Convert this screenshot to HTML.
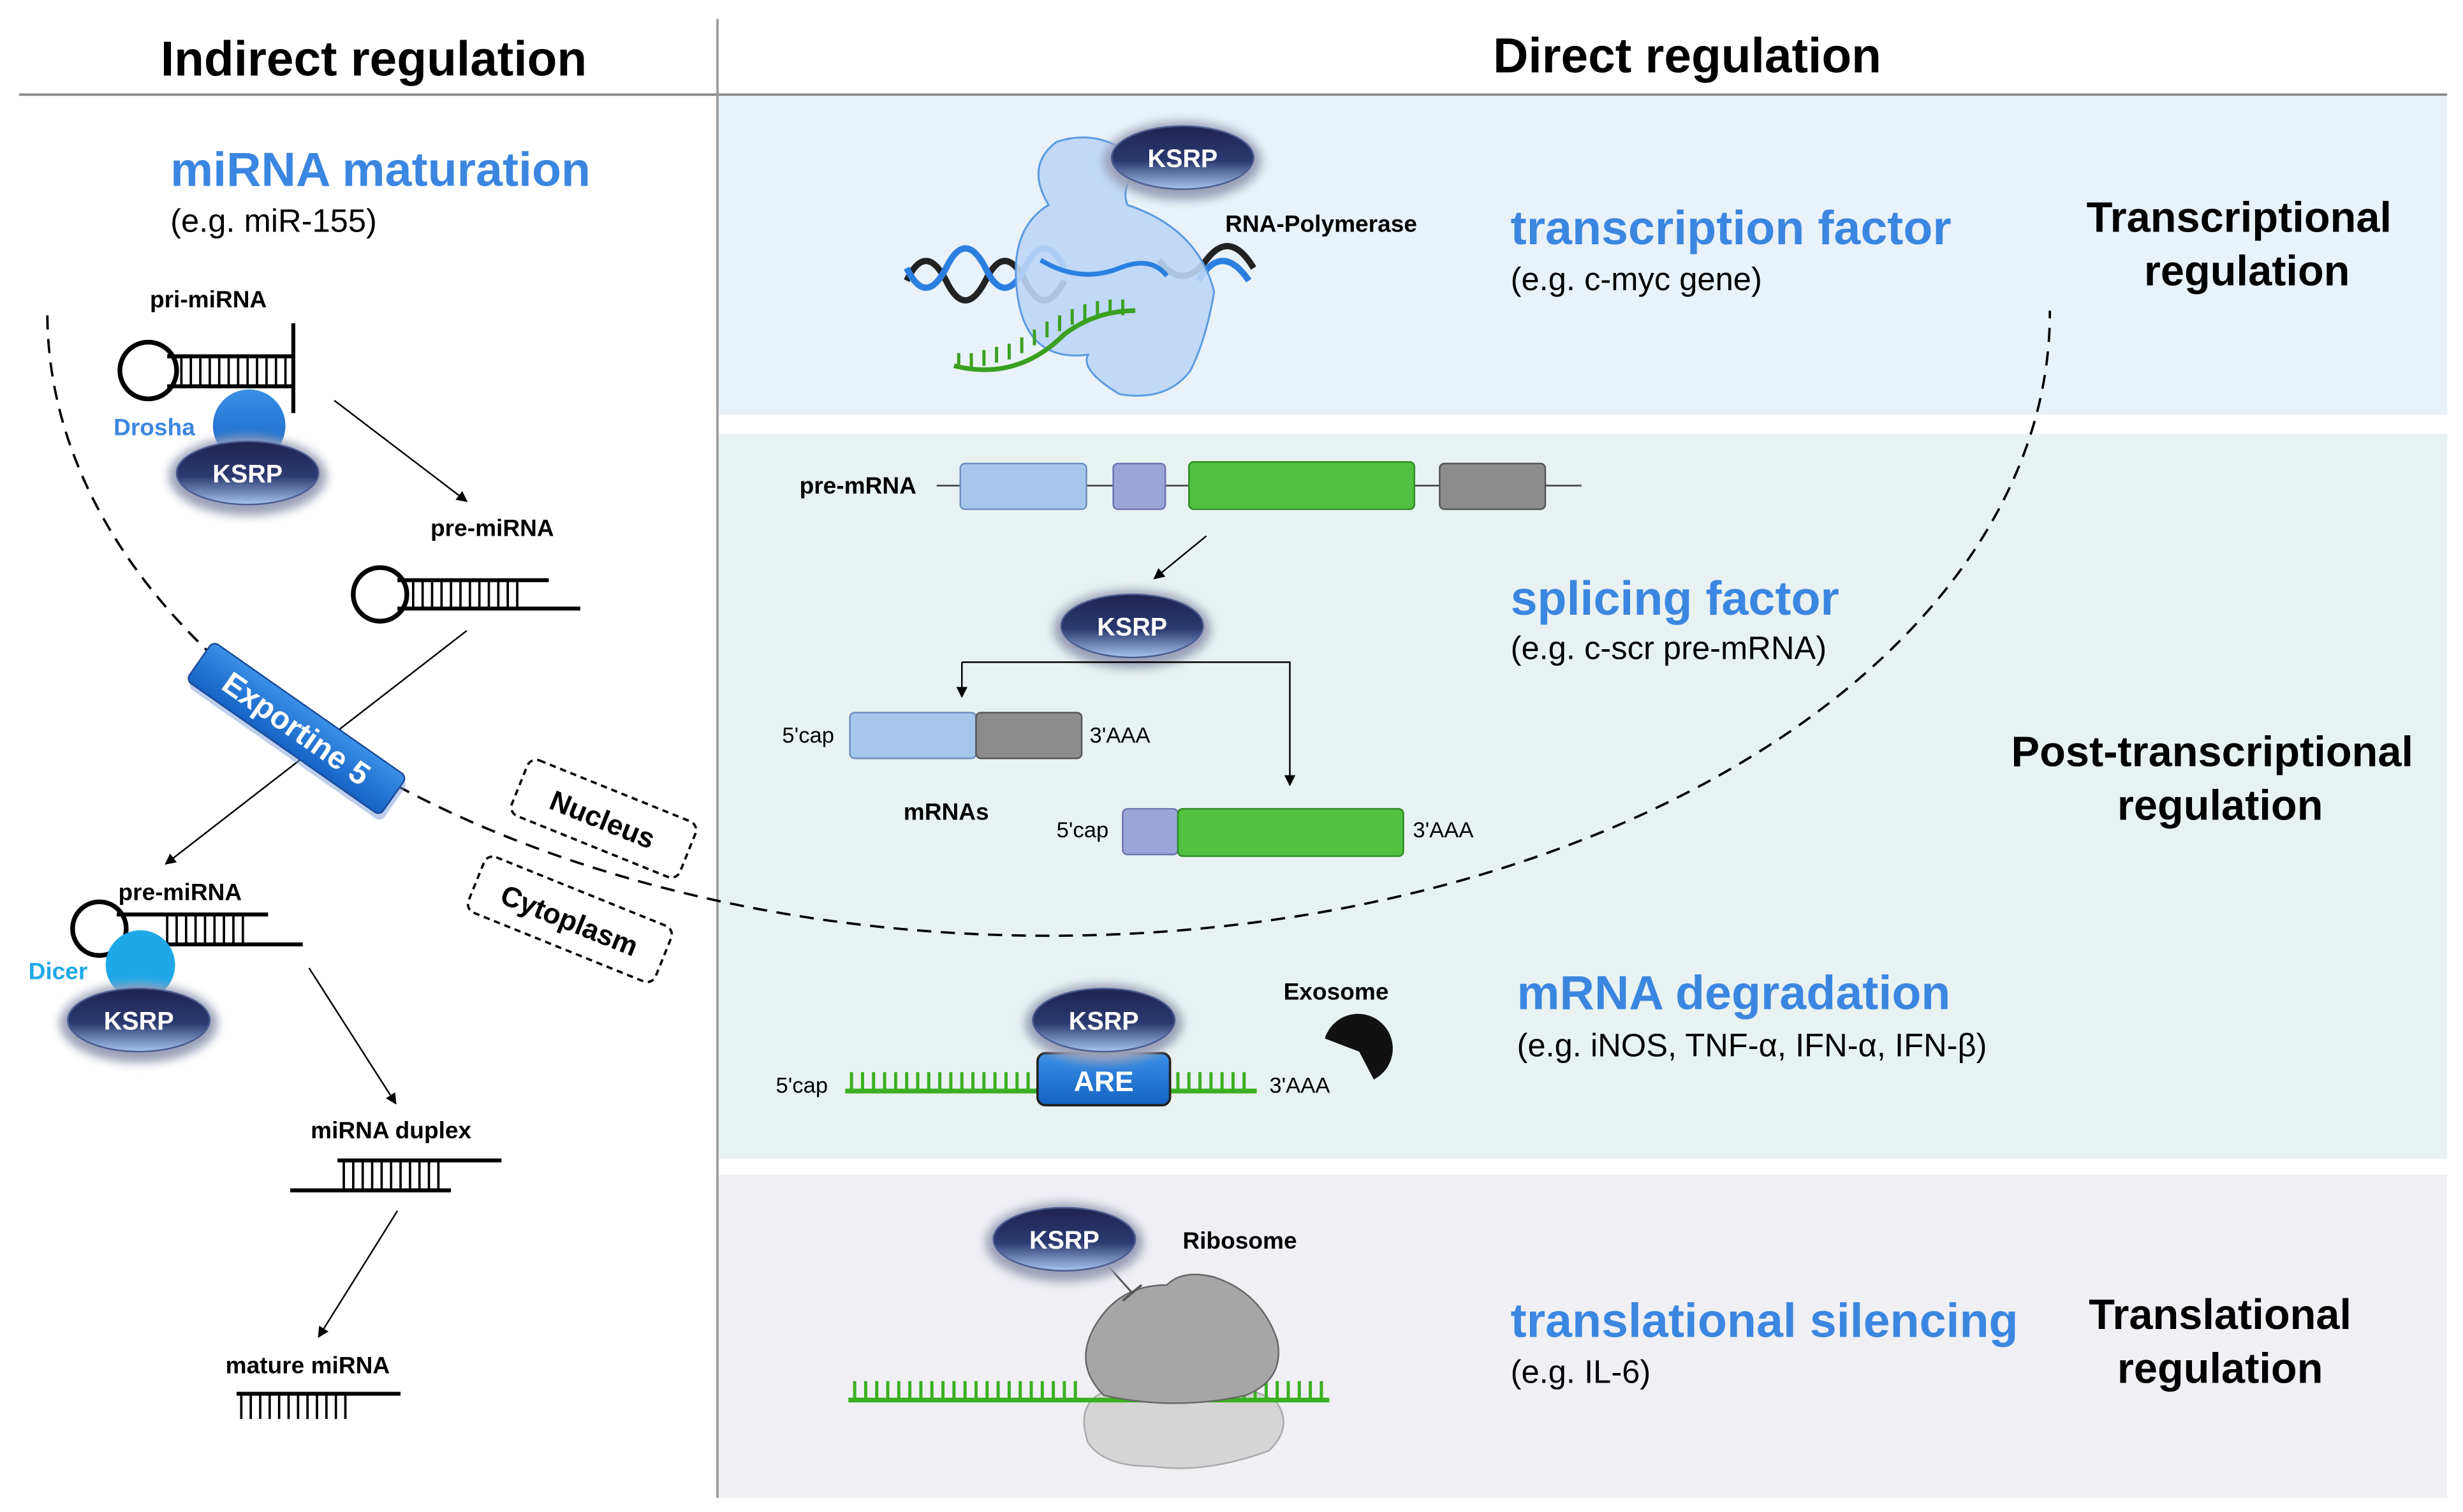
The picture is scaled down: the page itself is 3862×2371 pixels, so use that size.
<!DOCTYPE html>
<html><head><meta charset="utf-8"><style>html,body{margin:0;padding:0;background:#fff}svg{display:block}</style></head><body>
<svg width="3862" height="2371" viewBox="0 0 1562 959" xmlns="http://www.w3.org/2000/svg" font-family="Liberation Sans, Arial, sans-serif">
<defs>
<linearGradient id="kg" x1="0" y1="0" x2="0" y2="1"><stop offset="0" stop-color="#1f2450"/><stop offset="0.55" stop-color="#2a3a70"/><stop offset="1" stop-color="#a8c4ec"/></linearGradient>
<linearGradient id="bl" x1="0" y1="0" x2="0" y2="1"><stop offset="0" stop-color="#3a8fe6"/><stop offset="1" stop-color="#1563c4"/></linearGradient>
<filter id="sh" x="-30%" y="-30%" width="160%" height="160%"><feGaussianBlur stdDeviation="3"/></filter>
<marker id="ar" viewBox="0 0 10 10" refX="9" refY="5" markerWidth="7" markerHeight="7" orient="auto"><path d="M0,0L10,5L0,10z" fill="#000"/></marker>
<g id="ksrp"><ellipse cx="0" cy="2" rx="50" ry="25" fill="#9aa0b8" filter="url(#sh)"/><ellipse cx="0" cy="0" rx="45" ry="20" fill="url(#kg)" stroke="#4a5c90" stroke-width="1"/><text x="0" y="6" text-anchor="middle" font-size="16" font-weight="bold" fill="#fff">KSRP</text></g>
</defs>
<rect width="1562" height="959" fill="#fff"/>
<rect x="455" y="60" width="1097" height="203" fill="#e9f1f9"/>
<rect x="455" y="275" width="1097" height="460" fill="#e9f2f2"/>
<rect x="455" y="745" width="1097" height="205" fill="#efeff4"/>
<line x1="12" y1="60" x2="1552" y2="60" stroke="#888" stroke-width="1.5"/>
<line x1="455" y1="12" x2="455" y2="950" stroke="#999" stroke-width="1.5"/>
<text x="237" y="48" text-anchor="middle" font-size="31" font-weight="bold">Indirect regulation</text>
<text x="1070" y="46" text-anchor="middle" font-size="31" font-weight="bold">Direct regulation</text>
<path d="M30,200 A635,395 0 0 0 1300,197" fill="none" stroke="#000" stroke-width="1.5" stroke-dasharray="9,6"/>

<text x="108" y="118" font-size="30.5" font-weight="bold" fill="#3b86e0">miRNA maturation</text>
<text x="108" y="147" font-size="20.5">(e.g. miR-155)</text>
<text x="95" y="195" font-size="15" font-weight="bold">pri-miRNA</text>
<circle cx="94" cy="235" r="18" fill="#fff" stroke="#000" stroke-width="3"/>
<g stroke="#000" stroke-width="2.5"><line x1="106" y1="226" x2="186" y2="226"/><line x1="106" y1="245" x2="186" y2="245"/><line x1="186" y1="205" x2="186" y2="262"/></g>
<g stroke="#000" stroke-width="1.5"><path d="M115,226v19M121,226v19M127,226v19M133,226v19M139,226v19M145,226v19M151,226v19M157,226v19M163,226v19M169,226v19M175,226v19M181,226v19"/></g>
<circle cx="158" cy="270" r="23" fill="url(#bl)"/>
<text x="72" y="276" font-size="15" font-weight="bold" fill="#3b86e0">Drosha</text>
<use href="#ksrp" x="157" y="300"/>
<line x1="212" y1="254" x2="296" y2="318" stroke="#000" marker-end="url(#ar)"/>
<text x="273" y="340" font-size="15" font-weight="bold">pre-miRNA</text>
<circle cx="241" cy="377" r="17" fill="#fff" stroke="#000" stroke-width="3"/>
<g stroke="#000" stroke-width="2.5"><line x1="252" y1="368" x2="348" y2="368"/><line x1="252" y1="386" x2="368" y2="386"/></g>
<g stroke="#000" stroke-width="1.5"><path d="M262,368v18M268,368v18M274,368v18M280,368v18M286,368v18M292,368v18M298,368v18M304,368v18M310,368v18M316,368v18M322,368v18M328,368v18"/></g>
<line x1="296" y1="400" x2="105" y2="548" stroke="#000" marker-end="url(#ar)"/>
<g transform="rotate(35 188 462)"><rect x="113" y="447" width="150" height="30" rx="4" fill="#7a9ed8" transform="translate(3,3)" opacity="0.5"/><rect x="113" y="447" width="150" height="30" rx="4" fill="url(#bl)" stroke="#1a4a9a"/><text x="188" y="469" text-anchor="middle" font-size="20" font-weight="bold" fill="#fff">Exportine 5</text></g>
<g transform="rotate(22 382 520)"><rect x="325" y="500" width="115" height="38" rx="6" fill="#fff" stroke="#000" stroke-width="1.5" stroke-dasharray="4,3"/><text x="382" y="526" text-anchor="middle" font-size="18" font-weight="bold">Nucleus</text></g>
<g transform="rotate(22 361 584)"><rect x="297" y="564" width="128" height="38" rx="6" fill="#fff" stroke="#000" stroke-width="1.5" stroke-dasharray="4,3"/><text x="361" y="590" text-anchor="middle" font-size="18" font-weight="bold">Cytoplasm</text></g>
<text x="75" y="571" font-size="15" font-weight="bold">pre-miRNA</text>
<circle cx="63" cy="589" r="17" fill="#fff" stroke="#000" stroke-width="3"/>
<g stroke="#000" stroke-width="2.5"><line x1="74" y1="580" x2="170" y2="580"/><line x1="74" y1="599" x2="192" y2="599"/></g>
<g stroke="#000" stroke-width="1.5"><path d="M106,580v19M112,580v19M118,580v19M124,580v19M130,580v19M136,580v19M142,580v19M148,580v19M154,580v19"/></g>
<circle cx="89" cy="612" r="22" fill="#1ea8e8"/>
<text x="18" y="621" font-size="15" font-weight="bold" fill="#1ea8e8">Dicer</text>
<use href="#ksrp" x="88" y="647"/>
<line x1="196" y1="614" x2="251" y2="700" stroke="#000" marker-end="url(#ar)"/>
<text x="197" y="722" font-size="15" font-weight="bold">miRNA duplex</text>
<g stroke="#000" stroke-width="2.5"><line x1="214" y1="736" x2="318" y2="736"/><line x1="184" y1="755" x2="286" y2="755"/></g>
<g stroke="#000" stroke-width="1.5"><path d="M218,736v19M224,736v19M230,736v19M236,736v19M242,736v19M248,736v19M254,736v19M260,736v19M266,736v19M272,736v19M278,736v19"/></g>
<line x1="252" y1="768" x2="202" y2="848" stroke="#000" marker-end="url(#ar)"/>
<text x="143" y="871" font-size="15" font-weight="bold">mature miRNA</text>
<line x1="150" y1="884" x2="254" y2="884" stroke="#000" stroke-width="2.5"/>
<g stroke="#000" stroke-width="1.5"><path d="M153,884v16M159,884v16M165,884v16M171,884v16M177,884v16M183,884v16M189,884v16M195,884v16M201,884v16M207,884v16M213,884v16M219,884v16"/></g>

<path d="M575,178 q12,-25 25,0 q12,25 25,0 q12,-25 25,0 q12,25 25,0" fill="none" stroke="#222" stroke-width="4"/>
<path d="M575,170 q12,25 25,0 q12,-25 25,0 q12,25 25,0 q12,-25 25,0" fill="none" stroke="#2b7fe0" stroke-width="4"/>
<path d="M735,165 q15,20 30,0 q15,-20 30,5" fill="none" stroke="#222" stroke-width="4"/>
<path d="M760,178 q15,-25 32,0" fill="none" stroke="#2b7fe0" stroke-width="4"/>
<path d="M670,90 q30,-10 55,15 q-15,12 -10,25 q45,15 55,55 q-5,30 -15,50 q-15,20 -45,15 q-25,-15 -20,-25 q-40,5 -45,-40 q-5,-40 20,-55 q-15,-25 5,-40z" fill="#bcd6f6" fill-opacity="0.9" stroke="#5a9ae0" stroke-width="1.2"/>
<path d="M660,165 q25,15 50,5 q20,-8 30,5" fill="none" stroke="#2b7fe0" stroke-width="3"/>
<path d="M605,232 q40,10 70,-20 q20,-15 45,-15" fill="none" stroke="#3aa020" stroke-width="3"/>
<g stroke="#3aa020" stroke-width="2"><path d="M608,224v10M616,224v10M624,222v10M632,220v10M640,218v10M648,214v10M656,209v10M664,204v10M672,200v10M680,196v10M688,193v10M696,191v10M704,190v10M712,190v10"/></g>
<use href="#ksrp" x="750" y="100"/>
<text x="777" y="147" font-size="15" font-weight="bold">RNA-Polymerase</text>
<text x="958" y="155" font-size="30.5" font-weight="bold" fill="#3b86e0">transcription factor</text>
<text x="958" y="184" font-size="20.5">(e.g. c-myc gene)</text>
<text x="1420" y="147" text-anchor="middle" font-size="27" font-weight="bold">Transcriptional</text>
<text x="1425" y="181" text-anchor="middle" font-size="27" font-weight="bold">regulation</text>

<text x="507" y="313" font-size="15" font-weight="bold">pre-mRNA</text>
<line x1="594" y1="308" x2="1003" y2="308" stroke="#555" stroke-width="1.2"/>
<rect x="609" y="294" width="80" height="29" rx="3" fill="#a6c6ec" stroke="#6a8fc0"/>
<rect x="706" y="294" width="33" height="29" rx="3" fill="#9ba6d8" stroke="#6a75b0"/>
<rect x="754" y="293" width="143" height="30" rx="3" fill="#52c040" stroke="#2f8a25"/>
<rect x="913" y="294" width="67" height="29" rx="3" fill="#8c8c8c" stroke="#555"/>
<line x1="765" y1="340" x2="732" y2="367" stroke="#000" marker-end="url(#ar)"/>
<use href="#ksrp" x="718" y="397"/>
<path d="M610,420 H818 V498" fill="none" stroke="#000" marker-end="url(#ar)"/>
<line x1="610" y1="420" x2="610" y2="442" stroke="#000" marker-end="url(#ar)"/>
<text x="496" y="471" font-size="14">5'cap</text>
<rect x="539" y="452" width="80" height="29" rx="3" fill="#a6c6ec" stroke="#6a8fc0"/>
<rect x="619" y="452" width="67" height="29" rx="3" fill="#8c8c8c" stroke="#555"/>
<text x="691" y="471" font-size="14">3'AAA</text>
<text x="573" y="520" font-size="15" font-weight="bold">mRNAs</text>
<text x="670" y="531" font-size="14">5'cap</text>
<rect x="712" y="513" width="35" height="29" rx="3" fill="#9ba6d8" stroke="#6a75b0"/>
<rect x="747" y="513" width="143" height="30" rx="3" fill="#52c040" stroke="#2f8a25"/>
<text x="896" y="531" font-size="14">3'AAA</text>
<text x="958" y="390" font-size="30.5" font-weight="bold" fill="#3b86e0">splicing factor</text>
<text x="958" y="418" font-size="20.5">(e.g. c-scr pre-mRNA)</text>
<text x="1403" y="486" text-anchor="middle" font-size="27" font-weight="bold">Post-transcriptional</text>
<text x="1408" y="520" text-anchor="middle" font-size="27" font-weight="bold">regulation</text>

<text x="492" y="693" font-size="14">5'cap</text>
<line x1="536" y1="692" x2="797" y2="692" stroke="#3ab020" stroke-width="3"/>
<g stroke="#3ab020" stroke-width="2"><path d="M540,680v12M547,680v12M554,680v12M561,680v12M568,680v12M575,680v12M582,680v12M589,680v12M596,680v12M603,680v12M610,680v12M617,680v12M624,680v12M631,680v12M638,680v12M645,680v12M652,680v12M747,680v12M754,680v12M761,680v12M768,680v12M775,680v12M782,680v12M789,680v12"/></g>
<rect x="658" y="668" width="84" height="33" rx="5" fill="url(#bl)" stroke="#222" stroke-width="1.5"/>
<text x="700" y="692" text-anchor="middle" font-size="18" font-weight="bold" fill="#fff">ARE</text>
<use href="#ksrp" x="700" y="647"/>
<text x="805" y="693" font-size="14">3'AAA</text>
<text x="814" y="634" font-size="15" font-weight="bold">Exosome</text>
<path d="M862,667 L842,655 A22,22 0 1 1 868,686 Z" fill="#111" transform="rotate(-10 862 667)"/>
<text x="962" y="640" font-size="30.5" font-weight="bold" fill="#3b86e0">mRNA degradation</text>
<text x="962" y="670" font-size="20.5">(e.g. iNOS, TNF-α, IFN-α, IFN-β)</text>

<path d="M690,915 q-10,-30 20,-35 q30,-5 50,5 q30,-10 50,5 q10,15 -5,30 q-40,15 -75,10 q-30,0 -40,-15z" fill="#d5d5d5" stroke="#aaa"/>
<line x1="538" y1="888" x2="843" y2="888" stroke="#3ab020" stroke-width="3"/>
<g stroke="#3ab020" stroke-width="2"><path d="M542,876v12M549,876v12M556,876v12M563,876v12M570,876v12M577,876v12M584,876v12M591,876v12M598,876v12M605,876v12M612,876v12M619,876v12M626,876v12M633,876v12M640,876v12M647,876v12M654,876v12M661,876v12M668,876v12M675,876v12M682,876v12M761,876v12M768,876v12M775,876v12M782,876v12M789,876v12M796,876v12M803,876v12M810,876v12M817,876v12M824,876v12M831,876v12M838,876v12"/></g>
<path d="M700,885 q-20,-20 -5,-45 q15,-25 45,-25 q10,-10 30,-5 q30,10 40,40 q5,25 -20,35 q-45,10 -90,0z" fill="#a6a6a6" stroke="#666"/>
<line x1="700" y1="800" x2="718" y2="820" stroke="#555" stroke-width="1.2"/>
<line x1="712" y1="825" x2="724" y2="815" stroke="#555" stroke-width="1.5"/>
<use href="#ksrp" x="675" y="786"/>
<text x="750" y="792" font-size="15" font-weight="bold">Ribosome</text>
<text x="958" y="848" font-size="30.5" font-weight="bold" fill="#3b86e0">translational silencing</text>
<text x="958" y="877" font-size="20.5">(e.g. IL-6)</text>
<text x="1408" y="843" text-anchor="middle" font-size="27" font-weight="bold">Translational</text>
<text x="1408" y="877" text-anchor="middle" font-size="27" font-weight="bold">regulation</text>
</svg>
</body></html>
